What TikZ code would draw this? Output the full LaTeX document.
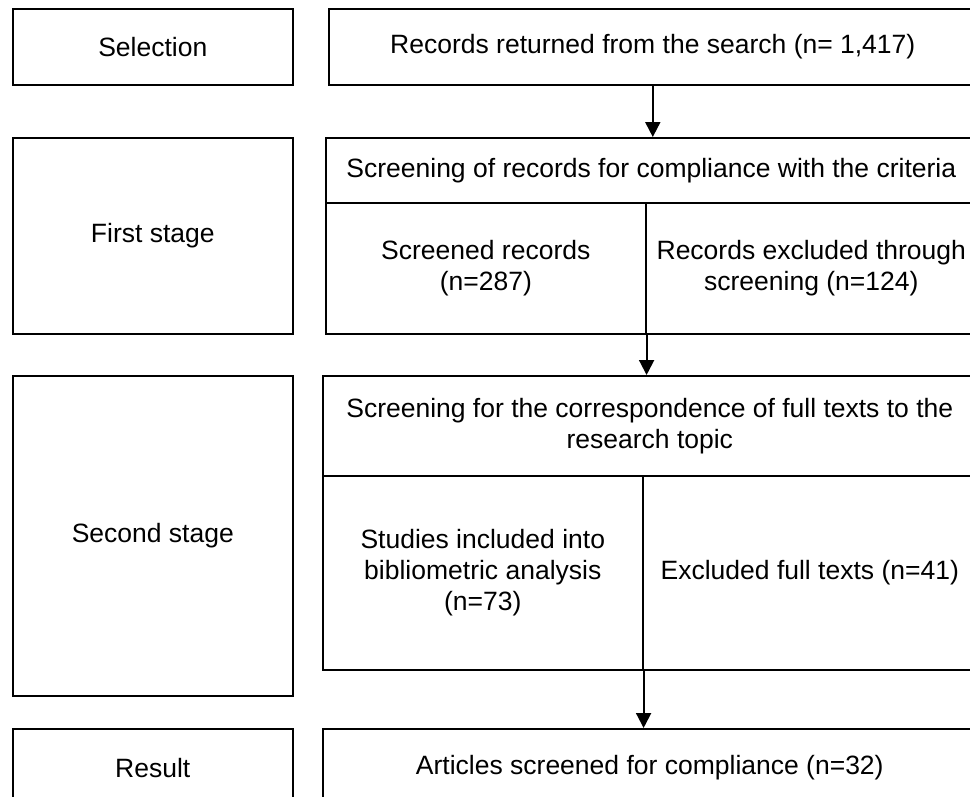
\documentclass[tikz,border=0pt]{standalone}
\usepackage{fontspec}
\setmainfont{Liberation Sans}
\usetikzlibrary{arrows.meta,calc}
\begin{document}
\begin{tikzpicture}[x=1pt,y=-1pt,
  box/.style={draw=black,line width=1.6pt,inner sep=0pt,anchor=north west,align=center,
    font=\fontsize{26.5}{31}\selectfont},
  arr/.style={draw=black,line width=2pt,-{Triangle[width=15pt,length=15pt]}}]
\useasboundingbox (0,0) rectangle (970,796);
\fill[white] (0,0) rectangle (970,796);
\clip (0,0) rectangle (970,796);
% left column
\node[box,minimum width=280pt,minimum height=76pt] (sel) at (12,8) {Selection};
\node[box,minimum width=280pt,minimum height=196pt] (first) at (12,137) {First stage};
\node[box,minimum width=280pt,minimum height=320pt] (second) at (12,375) {Second stage};
\node[box,minimum width=280pt,minimum height=78pt] (result) at (12,728) {Result};
% right column
\node[box,minimum width=648pt,minimum height=76pt] (rec) at (328,8) {Records returned from the search (n= 1,417)};
\node[box,minimum width=651pt,minimum height=65pt] (h1) at (325,137) {Screening of records for compliance with the criteria};
\node[box,minimum width=320pt,minimum height=131pt] (c1l) at (325,202) {Screened records\\(n=287)};
\node[box,minimum width=331pt,minimum height=131pt] (c1r) at (645,202) {Records excluded through\\screening (n=124)};
\node[box,minimum width=654pt,minimum height=100pt] (h2) at (322,375) {Screening for the correspondence of full texts to the\\research topic};
\node[box,minimum width=320pt,minimum height=194pt] (c2l) at (322,475) {Studies included into\\bibliometric analysis\\(n=73)};
\node[box,minimum width=334pt,minimum height=194pt] (c2r) at (642,475) {Excluded full texts (n=41)};
\node[box,minimum width=654pt,minimum height=78pt] (art) at (322,728) {Articles screened for compliance (n=32)};
% arrows
\draw[arr] (rec.south) -- (rec.south |- h1.north);
\draw[arr] (c1l.south east) -- (c1l.south east |- h2.north);
\draw[arr] (c2l.south east) -- (c2l.south east |- art.north);
\end{tikzpicture}
\end{document}
